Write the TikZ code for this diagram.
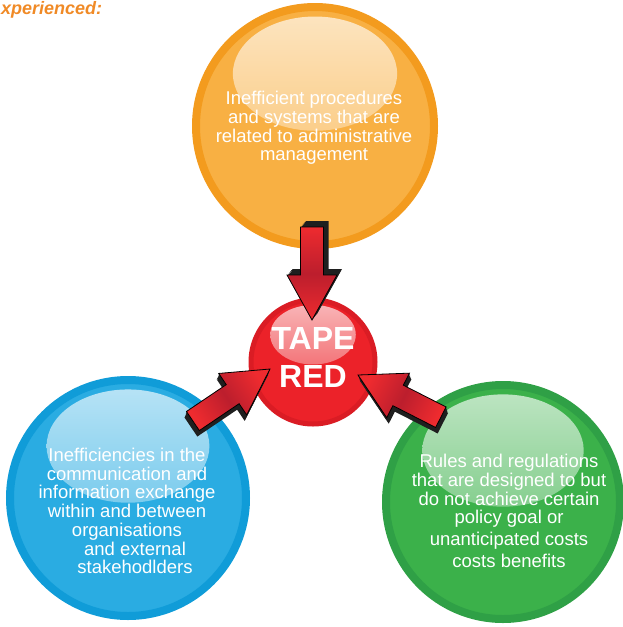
\documentclass[tikz,border=0pt]{standalone}
\usepackage{fontspec}
\setmainfont{Liberation Sans}
\usetikzlibrary{calc}

\definecolor{orangefill}{HTML}{F8B043}
\definecolor{orangering}{HTML}{F39B1E}
\definecolor{bluefill}{HTML}{2AACE2}
\definecolor{bluering}{HTML}{109CD8}
\definecolor{greenfill}{HTML}{3BB14A}
\definecolor{greenring}{HTML}{2FA046}
\definecolor{redfill}{HTML}{EC2229}
\definecolor{redring}{HTML}{DA1C24}
\definecolor{arrowred}{HTML}{EE2B2F}
\definecolor{arrowdark}{HTML}{BC1E2D}
\definecolor{headorange}{HTML}{F08A26}

% block arrow with its tip at #1, turned by #2, extruded by (#3,#4)
\newcommand{\tapearrow}[4]{%
  \pgfmathsetmacro{\shadeang}{#2+90}
  \foreach \s in {0.2,0.4,...,1}
    \fill[arrowside, shift={(#1)}, shift={(\s*#3,\s*#4)}, rotate=#2]
      (0,0) -- (-45,25) -- (-45,11.5) -- (-93,11.5) -- (-93,-11.5) -- (-45,-11.5) -- (-45,-25) -- cycle;
  \draw[arrowface, shading angle=\shadeang, shift={(#1)}, rotate=#2]
      (0,0) -- (-45,25) -- (-45,11.5) -- (-93,11.5) -- (-93,-11.5) -- (-45,-11.5) -- (-45,-25) -- cycle;
}

\begin{document}
\begin{tikzpicture}[
       x=1pt, y=-1pt,
       bubble/.style 2 args={circle, fill=#1, draw=#2, line width=8pt, inner sep=0,
         path picture={\shade[top color=white!68!#1, bottom color=#1!90!white]
           let \p1=($(path picture bounding box.north east)-(path picture bounding box.center)$) in
           ($(path picture bounding box.center)+(0,0.44*\y1)$) ellipse [x radius=0.69*\x1, y radius=0.48*\y1];}},
       bubbletext/.style={text=white, align=center, inner sep=0, font=\fontsize{18.5}{18.7}\selectfont},
       arrowside/.style={fill=black!88},
       arrowface/.style={draw=black, line width=0.8pt, top color=arrowred, bottom color=arrowred, middle color=arrowdark}
       ]
       \useasboundingbox (0,0) rectangle (623,627);

       \node[anchor=base west, inner sep=0, text=headorange, font=\bfseries\itshape\fontsize{18}{20}\selectfont] (heading) at (1,14) {xperienced:};

       \node[bubble={orangefill}{orangering}, minimum size=238pt] (admin) at (315,126) {};
       \node[bubble={bluefill}{bluering}, minimum size=236pt] (comm) at (128,498) {};
       \node[bubble={greenfill}{greenring}, minimum size=234pt] (rules) at (503,502) {};

       \node[bubbletext] (admintext) at (314,128) {Inefficient procedures\\and systems that are\\related to administrative\\management};
       \node[bubbletext] (commtext) at (127,511) {Inefficiencies in the\\communication and\\information exchange\\within and between\\organisations\\\hspace*{16pt}and external\\\hspace*{16pt}stakehodlders};
       \node[bubbletext] (rulestext) at (509,511) {Rules and regulations\\that are designed to but\\do not achieve certain\\policy goal or\\[3pt]unanticipated costs\\[3pt]costs benefits};

       \node[bubble={redfill}{redring}, minimum size=124pt, line width=5pt] (tape) at (313,362) {};
       \node[text=white, align=center, inner sep=0, font=\bfseries\fontsize{32}{38}\selectfont] (tapetext) at ($(tape)+(0,-5)$) {TAPE\\RED};

       \coordinate (tiptop) at ($(tape)+(-1,-42)$);
       \coordinate (tipleft) at ($(tape)+(-43,7)$);
       \coordinate (tipright) at ($(tape)+(45,13)$);

       \tapearrow{tiptop}{-90}{5}{-6}
       \tapearrow{tipleft}{34}{-2}{6}
       \tapearrow{tipright}{153}{2}{6}

\end{tikzpicture}
\end{document}
